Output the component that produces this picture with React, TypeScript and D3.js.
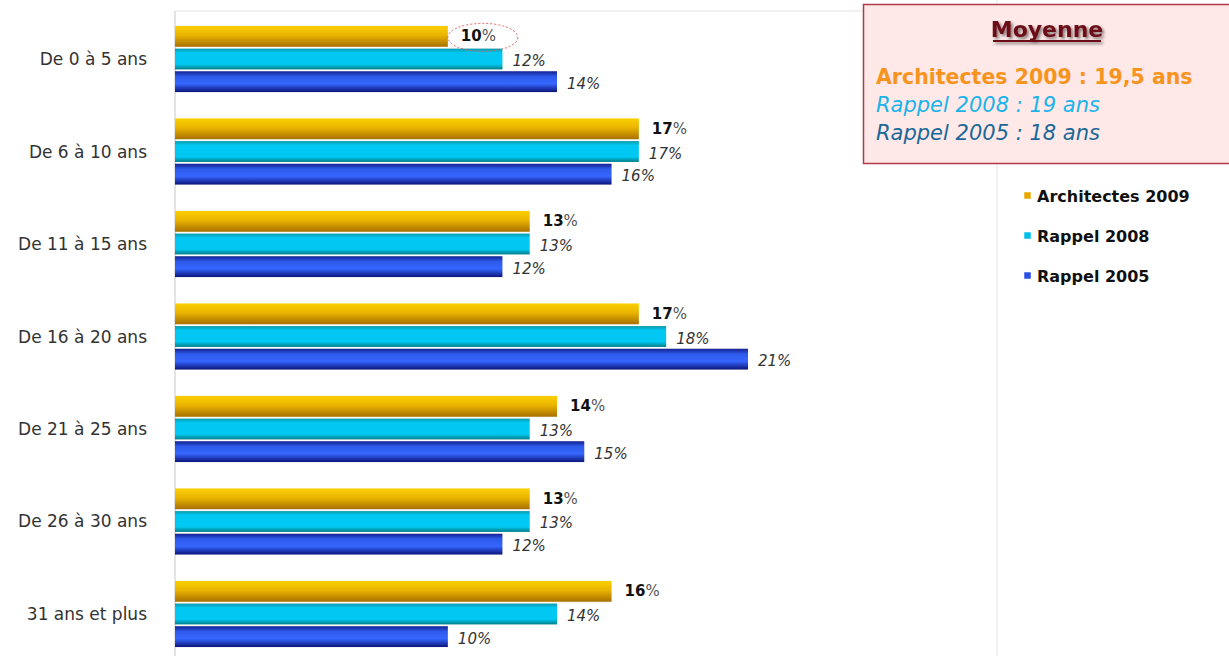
import React from "react";
import * as d3 from "d3";

const categories = ["De 0 à 5 ans", "De 6 à 10 ans", "De 11 à 15 ans", "De 16 à 20 ans", "De 21 à 25 ans", "De 26 à 30 ans", "31 ans et plus"];
const seriesNames = ["Architectes 2009", "Rappel 2008", "Rappel 2005"];
const architectes2009 = [10, 17, 13, 17, 14, 13, 16];
const rappel2008 = [12, 17, 13, 18, 13, 13, 14];
const rappel2005 = [14, 16, 12, 21, 15, 12, 10];
const moyenneLines = ["Architectes 2009 : 19,5 ans", "Rappel 2008 : 19 ans", "Rappel 2005 : 18 ans"];

const W = 1229, H = 656;
const FONT = "'DejaVu Sans', Verdana, sans-serif";

export default function App() {
  const series = [architectes2009, rappel2008, rappel2005];
  const x = d3.scaleLinear().domain([0, 21]).range([175, 748]);
  const y = d3.scaleBand<string>().domain(categories).range([13, 660]).paddingInner(0.285).paddingOuter(0.14);
  const inner = d3.scaleBand<number>().domain([0, 1, 2]).range([0, y.bandwidth()]).paddingInner(0.08);
  const grads = ["gOr", "gCy", "gBl"];
  const legendColors = ["#e6a800", "#00c0e8", "#2a50e8"];
  const boxColors = ["#f7941d", "#1ab4ea", "#1a6898"];

  return (
    <svg width={W} height={H} style={{ position: "absolute", left: 0, top: 0, background: "#fff" }} fontFamily={FONT}>
      <defs>
        <linearGradient id="gOr" x1="0" y1="0" x2="0" y2="1">
          <stop offset="0" stopColor="#fad000" />
          <stop offset="0.45" stopColor="#eab400" />
          <stop offset="1" stopColor="#a87000" />
        </linearGradient>
        <linearGradient id="gCy" x1="0" y1="0" x2="0" y2="1">
          <stop offset="0" stopColor="#0a98a8" />
          <stop offset="0.2" stopColor="#00c8f2" />
          <stop offset="0.75" stopColor="#00c8f2" />
          <stop offset="1" stopColor="#007e88" />
        </linearGradient>
        <linearGradient id="gBl" x1="0" y1="0" x2="0" y2="1">
          <stop offset="0" stopColor="#142090" />
          <stop offset="0.25" stopColor="#2d5ae8" />
          <stop offset="0.6" stopColor="#3566ff" />
          <stop offset="1" stopColor="#0c1478" />
        </linearGradient>
        <filter id="sh" filterUnits="userSpaceOnUse" x="960" y="5" width="180" height="50">
          <feGaussianBlur in="SourceAlpha" stdDeviation="1.5" />
          <feOffset dx="2" dy="2" result="b" />
          <feComponentTransfer><feFuncA type="linear" slope="0.5" /></feComponentTransfer>
          <feMerge><feMergeNode /><feMergeNode in="SourceGraphic" /></feMerge>
        </filter>
      </defs>

      {/* plot frame lines */}
      <line x1={175} x2={997} y1={11} y2={11} stroke="#e4e4e4" />
      <line x1={997} x2={997} y1={0} y2={H} stroke="#e4e4e4" />
      <line x1={175} x2={175} y1={11} y2={H} stroke="#c8c8c8" />

      {categories.map((c, ci) => (
        <g key={c}>
          <text x={147} y={(y(c) as number) + y.bandwidth() / 2} textAnchor="end" dominantBaseline="central" fontSize={17} fill="#333">{c}</text>
          {series.map((s, si) => {
            const by = (y(c) as number) + (inner(si) as number);
            const bh = inner.bandwidth();
            const xe = x(s[ci]);
            return (
              <g key={si}>
                <rect x={x(0)} y={by} width={xe - x(0)} height={bh} fill={`url(#${grads[si]})`} />
                {si === 0 ? (
                  <text x={xe + 13} y={by + bh / 2} dominantBaseline="central" fontSize={15} fill="#111">
                    <tspan fontWeight="bold">{s[ci]}</tspan><tspan fill="#555">%</tspan>
                  </text>
                ) : (
                  <text x={xe + 10} y={by + bh / 2 + 2} dominantBaseline="central" fontSize={15} fontStyle="italic" fill="#333">{s[ci]}%</text>
                )}
              </g>
            );
          })}
        </g>
      ))}

      {/* highlight ellipse */}
      <ellipse cx={x(architectes2009[0]) + 35} cy={(y(categories[0]) as number) + inner.bandwidth() / 2 + 1} rx={35} ry={14} fill="none" stroke="#e06060" strokeDasharray="2,2" strokeWidth={1} />

      {/* legend */}
      {seriesNames.map((n, i) => (
        <g key={n}>
          <rect x={1024} y={192 + i * 40} width={7} height={7} fill={legendColors[i]} stroke="#fff" strokeWidth={0.5} />
          <text x={1037} y={196 + i * 40} dominantBaseline="central" fontSize={16} fontWeight="bold" fill="#111">{n}</text>
        </g>
      ))}

      {/* moyenne box */}
      <rect x={863.5} y={4.5} width={380} height={159} fill="#ffe8e8" stroke="#b03a48" strokeWidth={1.5} />
      <g filter="url(#sh)">
        <text x={1047} y={29} textAnchor="middle" dominantBaseline="central" fontSize={22} fontWeight="bold" fill="#6a0c18">Moyenne</text>
        <rect x={993} y={40} width={108} height={2} fill="#6a0c18" />
      </g>
      {moyenneLines.map((t, i) => (
        <text key={t} x={876} y={77 + i * 28} dominantBaseline="central" fontSize={i === 0 ? 20.5 : 21} fontWeight={i === 0 ? "bold" : "normal"} fontStyle={i === 0 ? "normal" : "italic"} fill={boxColors[i]}>{t}</text>
      ))}
    </svg>
  );
}
